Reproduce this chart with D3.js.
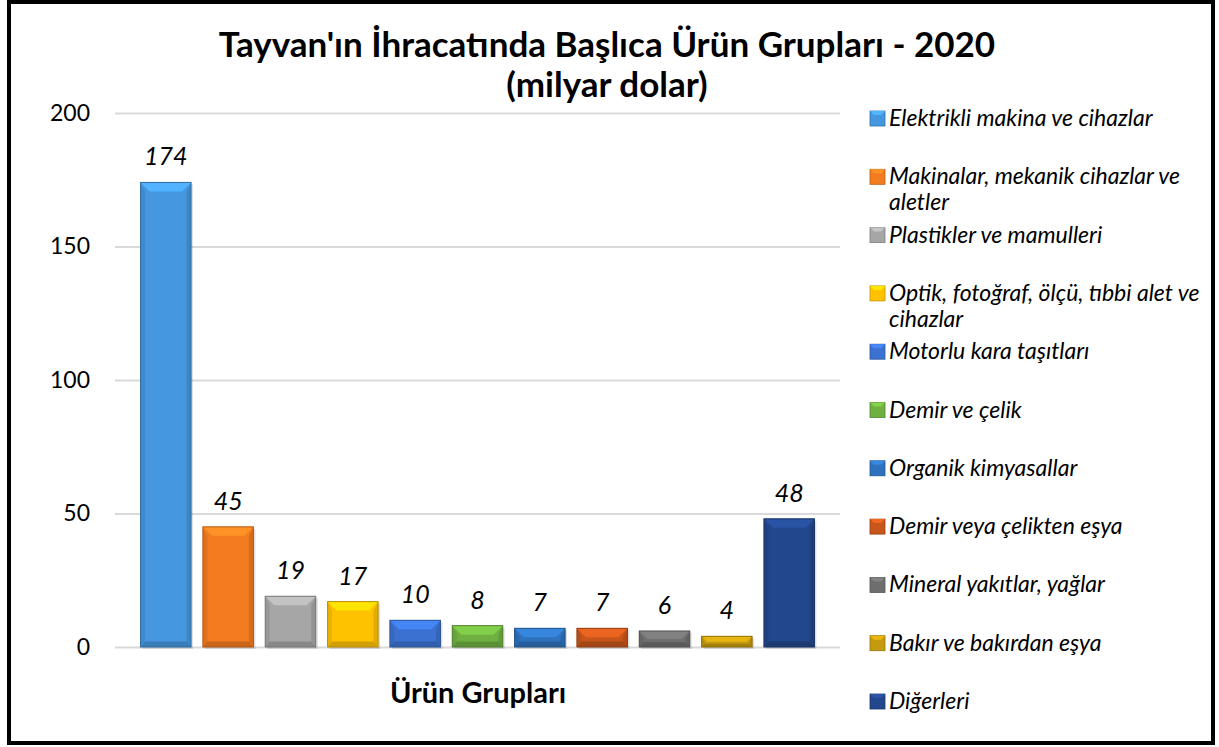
<!DOCTYPE html>
<html>
<head>
<meta charset="utf-8">
<script src="https://cdn.jsdelivr.net/npm/d3@7"></script>
<style>
  body { margin: 0; background: #fff; }
  text { font-family: Lato, "Open Sans", sans-serif; }
</style>
</head>
<body>
<div id="chart"></div>
<script>
// data
var categories = [
    "Elektrikli makina ve cihazlar",
    "Makinalar, mekanik cihazlar ve aletler",
    "Plastikler ve mamulleri",
    "Optik, fotoğraf, ölçü, tıbbi alet ve cihazlar",
    "Motorlu kara taşıtları",
    "Demir ve çelik",
    "Organik kimyasallar",
    "Demir veya çelikten eşya",
    "Mineral yakıtlar, yağlar",
    "Bakır ve bakırdan eşya",
    "Diğerleri"
];
var values = [174, 45, 19, 17, 10, 8, 7, 7, 6, 4, 48];
var colors = ["#4598e0", "#f47c20", "#a6a6a6", "#ffc200", "#3b72d2", "#6fb040",
              "#2e72bd", "#c8561b", "#6e6e6e", "#c59a0e", "#23478c"];
// legend lines (wrapped as in the picture)
var legendLines = [
    ["Elektrikli makina ve cihazlar"],
    ["Makinalar, mekanik cihazlar ve", "aletler"],
    ["Plastikler ve mamulleri"],
    ["Optik, fotoğraf, ölçü, tıbbi alet ve", "cihazlar"],
    ["Motorlu kara taşıtları"],
    ["Demir ve çelik"],
    ["Organik kimyasallar"],
    ["Demir veya çelikten eşya"],
    ["Mineral yakıtlar, yağlar"],
    ["Bakır ve bakırdan eşya"],
    ["Diğerleri"]
];
var yTicks = [0, 50, 100, 150, 200];
var titleLines = ["Tayvan'ın İhracatında Başlıca Ürün Grupları - 2020", "(milyar dolar)"];
var xTitle = "Ürün Grupları";

var width = 1219, height = 747;

var svg = d3.select("#chart")
    .append("svg")
    .attr("width", width)
    .attr("height", height);

// outer frame
svg.append("rect")
    .attr("x", 9).attr("y", 2)
    .attr("width", 1204).attr("height", 741)
    .attr("fill", "#fff")
    .attr("stroke", "#000")
    .attr("stroke-width", 4);

// scales
var xScale = d3.scaleBand()
    .domain(categories)
    .range([115, 840])
    .paddingInner(0.19)
    .paddingOuter(0.41);

var yScale = d3.scaleLinear()
    .domain([0, 200])
    .range([647, 113]);

// gridlines + y labels
var yAxis = d3.axisLeft(yScale)
    .tickValues(yTicks)
    .tickSize(-(840 - 115))
    .tickPadding(25)
    .tickFormat(d3.format("d"));

var gy = svg.append("g")
    .attr("transform", "translate(115,0)")
    .call(yAxis);
gy.select(".domain").remove();
gy.selectAll(".tick line").attr("stroke", "#d9d9d9").attr("stroke-width", 2);
gy.selectAll(".tick text")
    .attr("fill", "#000")
    .style("font-size", "23px")
    .style("font-family", "Lato, sans-serif");

// title
svg.append("g").selectAll("text")
    .data(titleLines)
    .enter().append("text")
    .attr("x", 607)
    .attr("y", function (d, i) { return 57 + i * 40; })
    .attr("text-anchor", "middle")
    .style("font-size", "35px")
    .style("font-weight", "bold")
    .text(function (d) { return d; });

// bars with a bevel look
var bars = svg.append("g").selectAll("g")
    .data(values)
    .enter().append("g");

bars.each(function (d, i) {
    var g = d3.select(this);
    var x = xScale(categories[i]);
    var w = xScale.bandwidth();
    var y = yScale(d);
    var h = yScale(0) - y;
    var b = Math.min(9, h / 2);
    var c = d3.color(colors[i]);

    g.append("rect")
        .attr("x", x + 2).attr("y", y + 2)
        .attr("width", w).attr("height", h)
        .attr("fill", "#000").attr("opacity", 0.12);
    g.append("rect")
        .attr("x", x).attr("y", y)
        .attr("width", w).attr("height", h)
        .attr("fill", c.formatHex());
    // top
    g.append("polygon")
        .attr("points", [[x, y], [x + w, y], [x + w - b, y + b], [x + b, y + b]].join(" "))
        .attr("fill", c.brighter(0.45).formatHex());
    // left
    g.append("polygon")
        .attr("points", [[x, y], [x + b * 0.5, y + b], [x + b * 0.5, y + h - b * 0.6], [x, y + h]].join(" "))
        .attr("fill", c.darker(0.25).formatHex());
    // right
    g.append("polygon")
        .attr("points", [[x + w, y], [x + w - b * 0.5, y + b], [x + w - b * 0.5, y + h - b * 0.6], [x + w, y + h]].join(" "))
        .attr("fill", c.darker(0.35).formatHex());
    // bottom
    g.append("polygon")
        .attr("points", [[x, y + h], [x + b * 0.5, y + h - b * 0.6], [x + w - b * 0.5, y + h - b * 0.6], [x + w, y + h]].join(" "))
        .attr("fill", c.darker(0.55).formatHex());
    g.append("rect")
        .attr("x", x).attr("y", y)
        .attr("width", w).attr("height", h)
        .attr("fill", "none")
        .attr("stroke", c.darker(0.9).formatHex())
        .attr("stroke-width", 1);
});

// value labels
svg.append("g").selectAll("text")
    .data(values)
    .enter().append("text")
    .attr("x", function (d, i) { return xScale(categories[i]) + xScale.bandwidth() / 2; })
    .attr("y", function (d) { return yScale(d) - 17; })
    .attr("text-anchor", "middle")
    .style("font-size", "25px")
    .style("font-style", "italic")
    .text(function (d) { return d; });

// x axis title
svg.append("text")
    .attr("x", 478)
    .attr("y", 703)
    .attr("text-anchor", "middle")
    .style("font-size", "29px")
    .style("font-weight", "bold")
    .text(xTitle);

// legend
var legend = svg.append("g").selectAll("g")
    .data(legendLines)
    .enter().append("g")
    .attr("transform", function (d, i) { return "translate(870," + (118 + i * 58.3) + ")"; });

legend.each(function (d, i) {
    var g = d3.select(this);
    var c = d3.color(colors[i]);
    var s = 15;
    g.append("rect")
        .attr("x", 0).attr("y", -7)
        .attr("width", s).attr("height", s)
        .attr("fill", c.formatHex())
        .attr("stroke", c.darker(0.8).formatHex())
        .attr("stroke-width", 0.8);
    g.append("polygon")
        .attr("points", [[0, -7], [s, -7], [s - 4, -3], [4, -3]].join(" "))
        .attr("fill", c.brighter(0.5).formatHex());
    g.selectAll("text")
        .data(d)
        .enter().append("text")
        .attr("x", 19)
        .attr("y", function (t, j) { return 8 + j * 26; })
        .style("font-size", "23px")
        .style("font-style", "italic")
        .text(function (t) { return t; });
});
</script>
</body>
</html>
